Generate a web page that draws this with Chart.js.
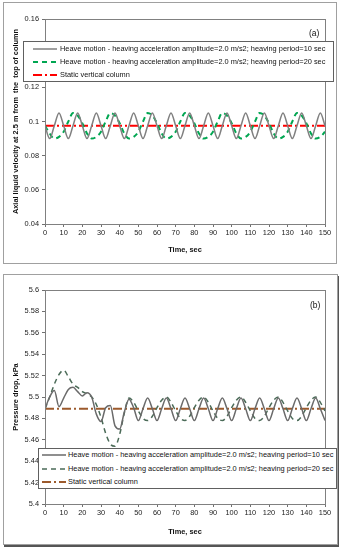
<!DOCTYPE html>
<html>
<head>
<meta charset="utf-8">
<script src="https://cdn.jsdelivr.net/npm/chart.js@4.4.1/dist/chart.umd.min.js"></script>
<style>
  body { margin: 0; background: #fff; width: 340px; height: 550px; position: relative; overflow: hidden;
         font-family: "Liberation Sans", Arial, sans-serif; }
  .frame { position: absolute; border: 1px solid #a0a0a0; background: #fff; }
  .frame canvas { position: absolute; left: 0; top: 0; }
  .legend { position: absolute; border: 1px solid #606060; background: #fff; font-size: 7.4px; color: #111; }
  .legend .row { position: absolute; height: 10px; white-space: nowrap; }
  .legend svg { position: absolute; top: 2px; }
  .legend span { position: absolute; top: 0; line-height: 10px; }
  .tag { position: absolute; font-size: 8.5px; color: #111; }
</style>
</head>
<body>

<div class="frame" id="frameA" style="left:3px; top:2px; width:332px; height:260px;">
  <canvas id="chartA" width="332" height="260"></canvas>
</div>
<div class="tag" style="left:309px; top:28px;">(a)</div>
<div class="legend" id="legendA" style="left:23px; top:41px; width:309px; height:39px;"></div>

<div class="frame" id="frameB" style="left:3px; top:274px; width:333px; height:269px; box-shadow: 1px 2px 0 #555;">
  <canvas id="chartB" width="333" height="269"></canvas>
</div>
<div class="tag" style="left:310px; top:300px;">(b)</div>
<div class="legend" id="legendB" style="left:38px; top:448px; width:297px; height:39px;"></div>

<script>
// time axis, every 2.5 s
const timeSec = [0,2.5,5,7.5,10,12.5,15,17.5,20,22.5,25,27.5,30,32.5,35,37.5,40,42.5,45,47.5,
  50,52.5,55,57.5,60,62.5,65,67.5,70,72.5,75,77.5,80,82.5,85,87.5,90,92.5,95,97.5,
  100,102.5,105,107.5,110,112.5,115,117.5,120,122.5,125,127.5,130,132.5,135,137.5,140,142.5,145,147.5,150];
const xTicks = [0, 150, 10];

const legendLabels = [
  "Heave motion - heaving acceleration amplitude=2.0 m/s2; heaving period=10 sec",
  "Heave motion - heaving acceleration amplitude=2.0 m/s2; heaving period=20 sec",
  "Static vertical column"
];

// (a) axial liquid velocity
const velPeriod10 = [0.0975,0.090,0.0975,0.105, 0.0975,0.090,0.0975,0.105, 0.0975,0.090,0.0975,0.105,
  0.0975,0.090,0.0975,0.105, 0.0975,0.090,0.0975,0.105, 0.0975,0.090,0.0975,0.105,
  0.0975,0.090,0.0975,0.105, 0.0975,0.090,0.0975,0.105, 0.0975,0.090,0.0975,0.105,
  0.0975,0.090,0.0975,0.105, 0.0975,0.090,0.0975,0.105, 0.0975,0.090,0.0975,0.105,
  0.0975,0.090,0.0975,0.105, 0.0975,0.090,0.0975,0.105, 0.0975,0.090,0.0975,0.105, 0.0975];
const velPeriod20 = [0.0975,0.093,0.090,0.091,0.094,0.100,0.105,0.1035,
  0.099,0.093,0.090,0.091,0.094,0.100,0.105,0.1035,
  0.099,0.093,0.090,0.091,0.094,0.100,0.105,0.1035,
  0.099,0.093,0.090,0.091,0.094,0.100,0.105,0.1035,
  0.099,0.093,0.090,0.091,0.094,0.100,0.105,0.1035,
  0.099,0.093,0.090,0.091,0.094,0.100,0.105,0.1035,
  0.099,0.093,0.090,0.091,0.094,0.100,0.105,0.1035,
  0.099,0.093,0.090,0.091,0.094];
const velStatic = 0.0975;
const velTicks = [0.04, 0.16, 0.02];

// (b) pressure drop
const dpPeriod10 = [5.489,5.500,5.506,5.491,5.499,5.507,5.509,5.505,5.501,5.504,
  5.500,5.484,5.477,5.490,5.492,5.473,5.470,5.486,5.498,5.490,5.478,
  5.489,5.499,5.489,5.478, 5.489,5.499,5.489,5.478, 5.489,5.499,5.489,5.478,
  5.489,5.499,5.489,5.478, 5.489,5.499,5.489,5.478, 5.489,5.499,5.489,5.478,
  5.489,5.499,5.489,5.478, 5.489,5.499,5.489,5.478, 5.489,5.499,5.489,5.478,
  5.489,5.499,5.489,5.478];
const dpPeriod20 = [5.489,5.500,5.512,5.521,5.525,5.519,5.512,5.509,5.505,5.503,
  5.500,5.493,5.481,5.466,5.456,5.454,5.465,5.485,5.499,5.495,
  5.487,5.480,5.478,5.482,5.490,5.497,
  5.500,5.495,5.487,5.480,5.478,5.482,5.490,5.497,
  5.500,5.495,5.487,5.480,5.478,5.482,5.490,5.497,
  5.500,5.495,5.487,5.480,5.478,5.482,5.490,5.497,
  5.500,5.495,5.487,5.480,5.478,5.482,5.490,5.497,
  5.500,5.495,5.487];
const dpStatic = 5.489;
const dpTicks = [5.4, 5.6, 0.02];

const FONT = '"Liberation Sans", Arial, sans-serif';

function pts(vals) {
  return timeSec.map((t, i) => ({ x: t, y: vals[i] }));
}

const plotBorder = {
  id: 'plotBorder',
  afterDraw(chart) {
    const { ctx, chartArea: a } = chart;
    ctx.save();
    ctx.strokeStyle = '#808080';
    ctx.lineWidth = 1;
    ctx.strokeRect(Math.round(a.left) + 0.5, Math.round(a.top) + 0.5,
      Math.round(a.right - a.left), Math.round(a.bottom - a.top));
    ctx.restore();
  }
};

function makeChart(id, cfg) {
  return new Chart(document.getElementById(id), {
    type: 'line',
    data: { datasets: cfg.datasets },
    options: {
      responsive: false,
      animation: false,
      devicePixelRatio: 1,
      layout: { padding: { top: cfg.top, right: cfg.right, left: 0, bottom: 0 } },
      plugins: { legend: { display: false }, tooltip: { enabled: false } },
      elements: { point: { radius: 0 } },
      scales: {
        x: {
          type: 'linear', min: xTicks[0], max: xTicks[1],
          afterFit: s => { s.height = cfg.xHeight; },
          grid: { drawOnChartArea: false, tickLength: 3, color: '#707070' },
          border: { color: '#707070' },
          ticks: { stepSize: xTicks[2], maxRotation: 0, autoSkip: false, padding: 2,
                   color: '#222', font: { family: FONT, size: 7.4 } },
          title: { display: true, text: 'Time, sec', color: '#111',
                   font: { family: FONT, size: 7.4, weight: 'bold' },
                   padding: { top: 0, bottom: cfg.xTitlePad } }
        },
        y: {
          min: cfg.yTicks[0], max: cfg.yTicks[1],
          afterFit: s => { s.width = 41; },
          grid: { drawOnChartArea: false, tickLength: 3, color: '#707070' },
          border: { color: '#707070' },
          ticks: { stepSize: cfg.yTicks[2], padding: 3, color: '#222',
                   font: { family: FONT, size: 7.4 },
                   callback: v => String(+v.toFixed(4)) },
          title: { display: true, text: cfg.yTitle, color: '#111',
                   font: { family: FONT, size: 7.4, weight: 'bold' },
                   padding: { top: 8, bottom: 0 } }
        }
      }
    },
    plugins: [plotBorder]
  });
}

makeChart('chartA', {
  top: 16, right: 11, xHeight: 39, xTitlePad: 9,
  yTicks: velTicks,
  yTitle: 'Axial liquid velocity at 2.5 m from  the  top of column',
  datasets: [
    { data: pts(velPeriod10), borderColor: '#808080', borderWidth: 1.5, cubicInterpolationMode: 'monotone' },
    { data: pts(velPeriod20), borderColor: '#00a651', borderWidth: 2, borderDash: [5, 4], cubicInterpolationMode: 'monotone' },
    { data: [{ x: 0, y: velStatic }, { x: 150, y: velStatic }], borderColor: '#ff0000', borderWidth: 2, borderDash: [9, 3, 2, 3] }
  ]
});

makeChart('chartB', {
  top: 15, right: 12, xHeight: 40, xTitlePad: 8,
  yTicks: dpTicks,
  yTitle: 'Pressure drop, kPa',
  datasets: [
    { data: pts(dpPeriod10), borderColor: '#6a6a6a', borderWidth: 1.5, cubicInterpolationMode: 'monotone' },
    { data: pts(dpPeriod20), borderColor: '#4b6b58', borderWidth: 1.5, borderDash: [5, 4], cubicInterpolationMode: 'monotone' },
    { data: [{ x: 0, y: dpStatic }, { x: 150, y: dpStatic }], borderColor: '#9c5a2c', borderWidth: 2, borderDash: [9, 3, 2, 3] }
  ]
});

function buildLegend(id, styles, rowsY, lineX, textX) {
  const box = document.getElementById(id);
  legendLabels.forEach((label, i) => {
    const st = styles[i];
    const row = document.createElement('div');
    row.className = 'row';
    row.style.top = (rowsY[i] - 5) + 'px';
    row.style.left = '0px';
    row.innerHTML =
      `<svg width="24" height="6" style="left:${lineX}px">
         <line x1="0" y1="3" x2="24" y2="3" stroke="${st.color}" stroke-width="${st.width}" stroke-dasharray="${st.dash}"/>
       </svg><span style="left:${textX}px">${label}</span>`;
    box.appendChild(row);
  });
}

buildLegend('legendA', [
  { color: '#808080', width: 1.5, dash: 'none' },
  { color: '#00a651', width: 2, dash: '5 4' },
  { color: '#ff0000', width: 2, dash: '9 3 2 3' }
], [7, 20, 33], 9, 36);

buildLegend('legendB', [
  { color: '#6a6a6a', width: 1.5, dash: 'none' },
  { color: '#4b6b58', width: 1.5, dash: '5 4' },
  { color: '#9c5a2c', width: 2, dash: '9 3 2 3' }
], [6, 20, 33], 3, 29);
</script>
</body>
</html>
